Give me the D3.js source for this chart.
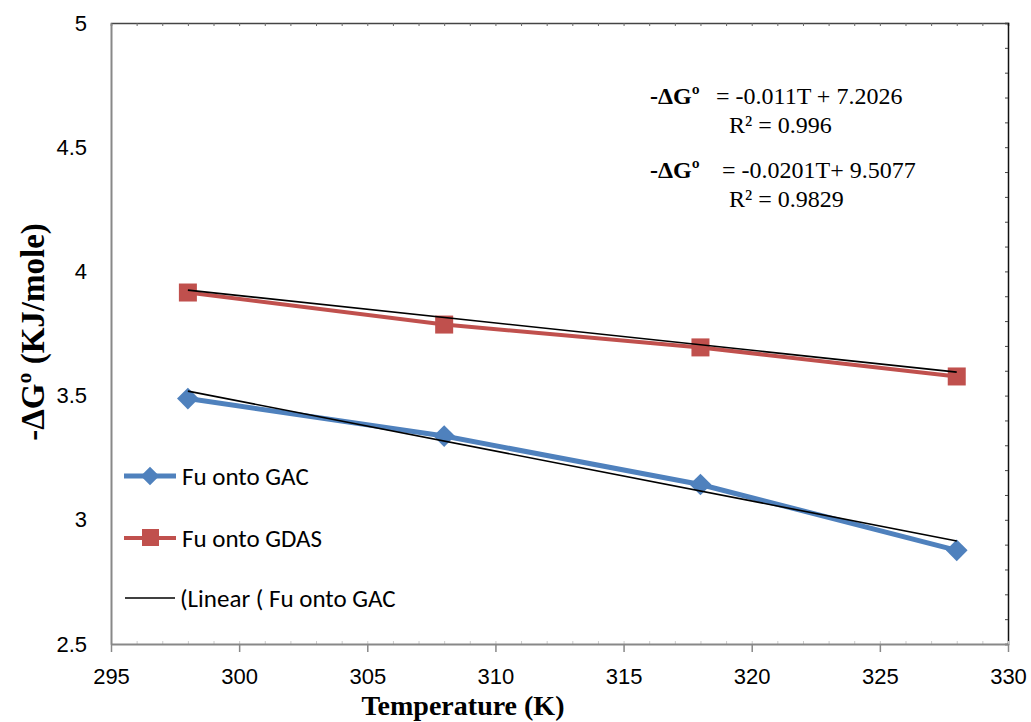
<!DOCTYPE html>
<html>
<head>
<meta charset="utf-8">
<script src="https://cdn.jsdelivr.net/npm/d3@7"></script>
<style>
  body { margin:0; background:#fff; }
</style>
</head>
<body>
<div class="svg-container"></div>
<script>
//data
const temps = [298, 308, 318, 328];
const gac = [3.488, 3.337, 3.142, 2.877];
const gdas = [3.915, 3.786, 3.694, 3.577];
const xTicks = [295, 300, 305, 310, 315, 320, 325, 330];
const yTicks = [2.5, 3, 3.5, 4, 4.5, 5];
//trendlines: [slope, intercept]
const fitGac = [-0.0201, 9.5077];
const fitGdas = [-0.011, 7.2026];

const width = 1031, height = 722;
const margin = { top:23, right:23, bottom:78, left:111 };

const svg = d3.select(".svg-container")
    .append('svg')
    .attr('width', width)
    .attr('height', height);

const x = d3.scaleLinear().domain([295, 330]).range([margin.left, width-margin.right]);
const y = d3.scaleLinear().domain([2.5, 5]).range([height-margin.bottom, margin.top]);

//top and right frame with small ticks
svg.append('g')
    .attr('transform', `translate(0, ${margin.top})`)
    .call(d3.axisBottom(x).ticks(35).tickSize(3).tickFormat(''))
    .call(g => g.selectAll('line').attr('stroke', '#666'))
    .call(g => g.select('.domain').attr('stroke', '#444').attr('stroke-width', 1.5));

svg.append('g')
    .attr('transform', `translate(${width-margin.right}, 0)`)
    .call(d3.axisLeft(y).ticks(25).tickSize(3).tickFormat(''))
    .call(g => g.selectAll('line').attr('stroke', '#444'))
    .call(g => g.select('.domain').attr('stroke', '#111').attr('stroke-width', 1.5));

//bottom minor ticks (inside)
svg.append('g')
    .attr('transform', `translate(0, ${height-margin.bottom})`)
    .call(d3.axisTop(x).ticks(35).tickSize(3).tickFormat(''))
    .call(g => g.select('.domain').remove())
    .call(g => g.selectAll('line').attr('stroke', '#ccc'));

//x axis
svg.append('g')
    .attr('transform', `translate(0, ${height-margin.bottom})`)
    .call(d3.axisBottom(x).tickValues(xTicks).tickSize(8).tickSizeOuter(0).tickPadding(16))
    .call(g => g.select('.domain').attr('stroke', '#888').attr('stroke-width', 2))
    .call(g => g.selectAll('line').attr('stroke', '#888').attr('stroke-width', 1.5))
    .call(g => g.selectAll('text').attr('font-family', 'Liberation Sans, Arial, sans-serif').attr('font-size', 22).attr('fill', '#000'));

//y axis
svg.append('g')
    .attr('transform', `translate(${margin.left}, 0)`)
    .call(d3.axisLeft(y).tickValues(yTicks).tickFormat(d => String(d)).tickSize(0).tickPadding(24))
    .call(g => g.select('.domain').attr('stroke', '#888').attr('stroke-width', 2))
    .call(g => g.selectAll('text').attr('font-family', 'Liberation Sans, Arial, sans-serif').attr('font-size', 22).attr('fill', '#000'));

const line = d3.line().x(d => x(d[0])).y(d => y(d[1]));

//series lines
svg.append('path')
    .datum(temps.map((t, i) => [t, gdas[i]]))
    .attr('d', line)
    .attr('fill', 'none')
    .attr('stroke', '#C0504D')
    .attr('stroke-width', 4);

svg.append('path')
    .datum(temps.map((t, i) => [t, gac[i]]))
    .attr('d', line)
    .attr('fill', 'none')
    .attr('stroke', '#4F81BD')
    .attr('stroke-width', 5);

//markers
svg.selectAll('.sq')
    .data(temps.map((t, i) => [t, gdas[i]]))
    .join('rect')
    .attr('class', 'sq')
    .attr('x', d => x(d[0]) - 9)
    .attr('y', d => y(d[1]) - 9)
    .attr('width', 18)
    .attr('height', 18)
    .attr('fill', '#C0504D');

const diamond = d3.symbol().type(d3.symbolDiamond2).size(300);
svg.selectAll('.dia')
    .data(temps.map((t, i) => [t, gac[i]]))
    .join('path')
    .attr('class', 'dia')
    .attr('d', diamond)
    .attr('transform', d => `translate(${x(d[0])}, ${y(d[1])})`)
    .attr('fill', '#4F81BD');

//trendlines
[fitGac, fitGdas].forEach(f => {
    svg.append('path')
        .datum([temps[0], temps[temps.length-1]].map(t => [t, f[0]*t + f[1]]))
        .attr('d', line)
        .attr('fill', 'none')
        .attr('stroke', '#000')
        .attr('stroke-width', 1.6);
});

//legend
const legend = svg.append('g').attr('font-family', 'Carlito, Lato, sans-serif').attr('font-size', 25);
const ly = [476, 538, 598];
legend.append('line').attr('x1', 124).attr('x2', 176).attr('y1', ly[0]).attr('y2', ly[0]).attr('stroke', '#4F81BD').attr('stroke-width', 5);
legend.append('path').attr('d', d3.symbol().type(d3.symbolDiamond2).size(220)).attr('transform', `translate(150, ${ly[0]})`).attr('fill', '#4F81BD');
legend.append('line').attr('x1', 124).attr('x2', 176).attr('y1', ly[1]).attr('y2', ly[1]).attr('stroke', '#C0504D').attr('stroke-width', 4);
legend.append('rect').attr('x', 142).attr('y', ly[1]-9).attr('width', 17).attr('height', 17).attr('fill', '#C0504D');
legend.append('line').attr('x1', 125).attr('x2', 175).attr('y1', ly[2]).attr('y2', ly[2]).attr('stroke', '#000').attr('stroke-width', 1.5);
legend.selectAll('.lt')
    .data(['Fu onto GAC', 'Fu onto GDAS', '(Linear ( Fu onto GAC'])
    .join('text')
    .attr('class', 'lt')
    .attr('x', (d, i) => i == 2 ? 180 : 182)
    .attr('y', (d, i) => ly[i] + 9)
    .text(d => d);

//equations
const eq = svg.append('g').attr('font-family', 'Liberation Serif, Times New Roman, serif').attr('font-size', 24);
eq.append('text').attr('x', 650).attr('y', 104).attr('font-weight', 'bold').text('-ΔGº');
eq.append('text').attr('x', 716).attr('y', 104).text('= -0.011T + 7.2026');
eq.append('text').attr('x', 729).attr('y', 133).text('R² = 0.996');
eq.append('text').attr('x', 650).attr('y', 178).attr('font-weight', 'bold').text('-ΔGº');
eq.append('text').attr('x', 722).attr('y', 178).text('= -0.0201T+ 9.5077');
eq.append('text').attr('x', 729).attr('y', 207).text('R² = 0.9829');

//axis titles
svg.append('text')
    .attr('x', 463)
    .attr('y', 715)
    .attr('text-anchor', 'middle')
    .attr('font-family', 'Liberation Serif, Times New Roman, serif')
    .attr('font-weight', 'bold')
    .attr('font-size', 28)
    .text('Temperature (K)');

svg.append('text')
    .attr('transform', 'translate(44, 332) rotate(-90)')
    .attr('text-anchor', 'middle')
    .attr('font-family', 'Liberation Serif, Times New Roman, serif')
    .attr('font-weight', 'bold')
    .attr('font-size', 33)
    .text('-ΔGº (KJ/mole)');
</script>
</body>
</html>
